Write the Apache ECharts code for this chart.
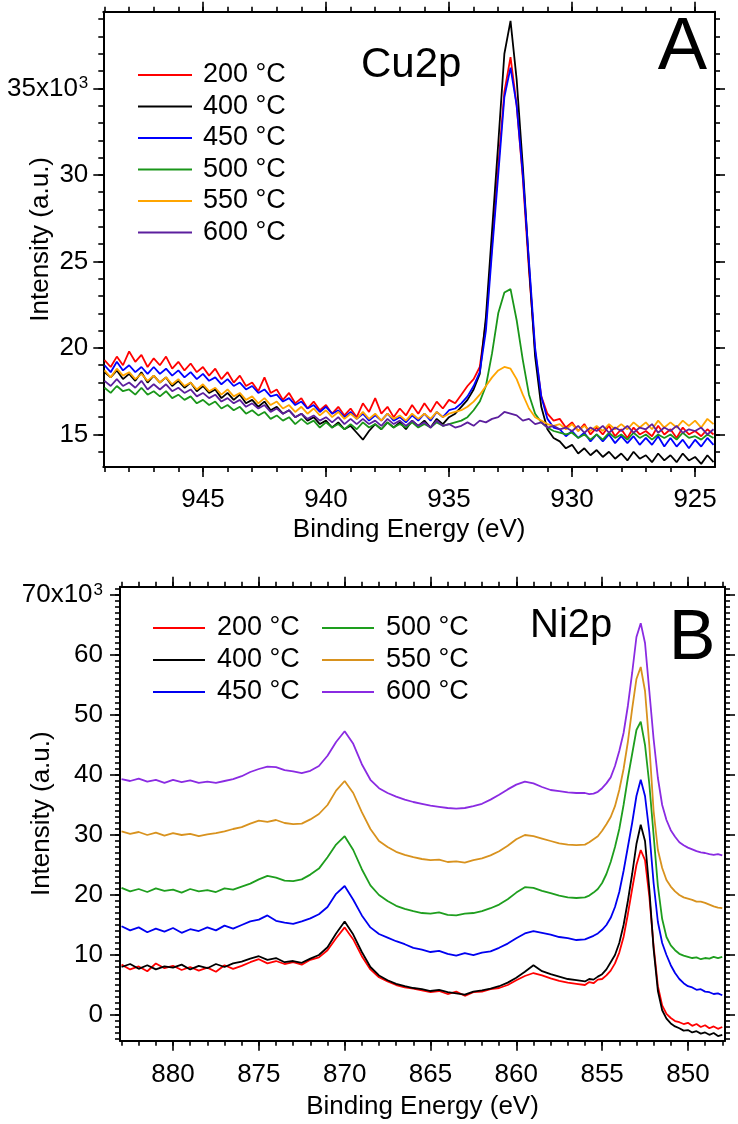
<!DOCTYPE html>
<html><head><meta charset="utf-8">
<script src="https://cdn.jsdelivr.net/npm/echarts@6/dist/echarts.min.js"></script>
<style>html,body{margin:0;padding:0;background:#fff}#c{width:738px;height:1124px}</style>
</head><body><div id="c"></div>
<script>
// ---------------- DATA ----------------
const seriesNames = ['200 °C','400 °C','450 °C','500 °C','550 °C','600 °C'];

// Panel A: Cu2p (intensity in 10^3 a.u.)
const energyA = [949,948.75,948.5,948.25,948,947.75,947.5,947.25,947,946.75,946.5,946.25,946,945.75,945.5,945.25,945,944.75,944.5,944.25,944,943.75,943.5,943.25,943,942.75,942.5,942.25,942,941.75,941.5,941.25,941,940.75,940.5,940.25,940,939.75,939.5,939.25,939,938.75,938.5,938.25,938,937.75,937.5,937.25,937,936.75,936.5,936.25,936,935.75,935.5,935.25,935,934.75,934.5,934.25,934,933.75,933.5,933.25,933,932.75,932.5,932.25,932,931.75,931.5,931.25,931,930.75,930.5,930.25,930,929.75,929.5,929.25,929,928.75,928.5,928.25,928,927.75,927.5,927.25,927,926.75,926.5,926.25,926,925.75,925.5,925.25,925,924.75,924.5,924.25];
const cu200 = [19.3,18.9,19.5,19.0,19.8,19.2,19.6,18.9,19.4,19.0,19.5,18.8,19.2,18.7,19.1,18.6,18.9,18.4,18.8,18.2,18.6,18.0,18.4,17.8,18.0,17.5,18.3,17.4,17.6,17.0,17.4,16.8,17.1,16.5,16.9,16.4,16.7,16.2,16.6,16.1,16.5,16.0,16.8,16.3,17.1,16.2,16.6,16.0,16.5,16.1,16.7,16.2,16.8,16.3,16.9,16.5,17.0,16.8,17.3,17.8,18.2,18.9,21.5,26.0,30.5,34.8,36.8,34.0,29.8,24.5,19.8,17.2,16.2,15.8,15.9,15.4,15.7,15.2,15.6,15.0,15.4,15.0,15.5,14.9,15.3,14.8,15.4,15.0,15.2,14.9,15.5,15.0,15.3,14.8,15.4,15.0,15.2,14.9,15.3,15.0];
const cu400 = [18.6,18.3,18.7,18.2,18.5,18.1,18.6,18.0,18.4,18.0,18.3,17.8,18.1,17.7,18.0,17.5,17.8,17.4,17.6,17.1,17.4,17.0,17.3,16.8,17.0,16.6,16.9,16.4,16.6,16.2,16.4,16.0,16.2,15.8,16.0,15.6,15.8,15.4,15.7,15.3,15.5,15.1,14.7,15.2,15.6,15.3,15.7,15.4,15.7,15.3,15.8,15.5,15.8,15.4,15.9,15.6,16.0,16.2,16.6,17.0,17.6,18.5,21.8,26.8,31.8,37.0,38.9,35.5,30.5,24.8,19.5,16.6,15.3,14.8,14.6,14.2,14.4,13.9,14.2,13.8,14.1,13.7,14.0,13.6,13.9,13.5,14.0,13.6,13.8,13.4,13.9,13.5,13.8,13.4,13.9,13.5,13.7,13.3,13.8,13.4];
const cu450 = [19.0,18.6,19.2,18.7,19.0,18.6,18.9,18.5,18.9,18.5,18.8,18.4,18.7,18.3,18.6,18.2,18.5,18.1,18.3,17.9,18.2,17.8,18.0,17.6,17.8,17.4,17.6,17.2,17.3,16.9,17.1,16.7,16.9,16.5,16.7,16.3,16.6,16.2,16.4,16.0,16.3,15.9,16.2,15.8,16.1,15.8,16.2,15.8,16.0,15.7,16.1,15.8,16.2,15.8,16.3,16.0,16.4,16.5,16.8,17.2,17.8,18.6,21.0,25.6,30.0,34.5,36.2,34.0,30.0,25.0,20.0,17.2,15.9,15.4,15.3,14.9,15.2,14.8,15.1,14.6,15.0,14.6,15.0,14.5,14.9,14.5,14.9,14.4,14.8,14.4,14.9,14.3,14.8,14.3,14.7,14.2,14.7,14.3,14.8,14.4];
const cu500 = [17.7,17.4,17.8,17.5,17.6,17.3,17.7,17.3,17.5,17.2,17.5,17.1,17.3,17.0,17.2,16.8,17.0,16.7,16.9,16.5,16.7,16.4,16.6,16.2,16.4,16.1,16.3,15.9,16.1,15.8,16.0,15.6,15.9,15.6,15.8,15.4,15.7,15.4,15.6,15.3,15.6,15.3,15.7,15.4,15.6,15.3,15.7,15.4,15.6,15.4,15.7,15.4,15.6,15.4,15.7,15.5,15.6,15.7,15.8,16.0,16.4,16.9,17.8,19.7,22.0,23.2,23.4,21.6,19.3,17.3,16.2,15.7,15.4,15.2,15.1,15.0,15.1,14.8,15.0,14.7,15.0,14.7,15.1,14.8,15.0,14.7,15.1,14.8,15.0,14.7,15.0,14.8,15.0,14.7,15.1,14.8,14.9,14.7,15.0,14.8];
const cu550 = [18.7,18.3,18.8,18.4,18.6,18.2,18.5,18.1,18.4,18.0,18.3,17.9,18.2,17.8,18.0,17.6,17.9,17.5,17.7,17.3,17.6,17.2,17.4,17.0,17.2,16.8,17.1,16.7,16.9,16.5,16.7,16.3,16.6,16.2,16.5,16.1,16.4,16.0,16.3,15.9,16.2,15.9,16.3,15.9,16.2,15.8,16.2,15.9,16.1,15.8,16.2,15.9,16.2,15.9,16.3,16.0,16.2,16.3,16.4,16.6,16.9,17.3,17.8,18.3,18.7,18.9,18.8,18.2,17.3,16.5,16.0,15.8,15.6,15.5,15.6,15.3,15.6,15.2,15.5,15.2,15.5,15.2,15.6,15.3,15.6,15.3,15.7,15.4,15.7,15.3,15.8,15.4,15.7,15.4,15.8,15.5,15.8,15.4,15.9,15.6];
const cu600 = [18.1,17.8,18.2,17.8,18.0,17.7,18.1,17.6,17.9,17.6,17.9,17.5,17.7,17.4,17.6,17.2,17.4,17.1,17.3,16.9,17.1,16.8,17.0,16.6,16.8,16.5,16.7,16.3,16.5,16.2,16.4,16.0,16.2,15.9,16.1,15.8,16.0,15.7,16.0,15.6,15.9,15.6,15.9,15.6,15.8,15.5,15.9,15.6,15.8,15.5,15.8,15.5,15.7,15.4,15.8,15.5,15.6,15.4,15.5,15.7,15.5,15.8,15.7,15.9,16.0,16.3,16.2,16.1,15.8,15.9,15.6,15.7,15.4,15.5,15.3,15.4,15.2,15.5,15.1,15.4,15.2,15.5,15.1,15.4,15.2,15.5,15.1,15.4,15.3,15.6,15.1,15.4,15.2,15.5,15.1,15.3,15.2,15.4,15.0,15.3];

// Panel B: Ni2p (intensity in 10^3 a.u.)
const energyB = [883,882.5,882,881.5,881,880.5,880,879.5,879,878.5,878,877.5,877,876.5,876,875.5,875,874.5,874,873.5,873,872.5,872,871.5,871,870.5,870,869.5,869,868.5,868,867.5,867,866.5,866,865.5,865,864.5,864,863.5,863,862.5,862,861.5,861,860.5,860,859.5,859,858.5,858,857.5,857,856.5,856,855.75,855.5,855.25,855,854.75,854.5,854.25,854,853.75,853.5,853.25,853,852.75,852.5,852.25,852,851.75,851.5,851.25,851,850.75,850.5,850.25,850,849.75,849.5,849.25,849,848.75,848.5,848.25,848];
const ni200 = [8.4,7.6,8.1,7.3,8.6,7.8,8.2,7.5,8.0,7.4,7.9,7.2,8.3,7.7,8.2,8.8,9.3,8.6,9.0,8.5,8.8,8.4,9.2,9.6,10.8,12.8,14.6,12.6,9.8,7.6,6.3,5.6,5.0,4.6,4.4,4.1,3.8,4.0,3.5,3.9,3.2,3.8,3.9,4.3,4.5,5.0,5.8,6.5,7.0,6.6,6.1,5.7,5.4,5.2,5.0,5.5,5.3,5.9,6.0,6.6,7.4,8.6,10.4,13.0,16.8,21.0,25.0,27.5,25.8,19.8,11.5,4.8,1.6,0.2,-0.5,-1.0,-1.2,-1.5,-1.3,-1.8,-1.5,-2.0,-1.7,-2.2,-1.9,-2.3,-2.0];
const ni400 = [8.0,8.5,7.7,8.3,7.6,8.1,7.9,8.4,7.6,8.2,7.8,8.5,8.0,8.6,8.9,9.4,9.8,9.2,9.5,8.8,9.0,8.7,9.4,10.0,11.3,13.6,15.6,13.4,10.5,8.0,6.6,5.8,5.2,4.8,4.5,4.3,4.0,4.2,3.8,3.6,3.4,3.9,4.1,4.4,4.8,5.4,6.2,7.2,8.3,7.3,6.8,6.4,6.0,5.8,5.6,6.0,5.9,6.4,6.8,7.6,8.8,10.0,12.0,15.0,19.0,23.5,28.5,31.7,29.0,21.0,11.0,4.0,0.8,-0.6,-1.4,-1.9,-2.2,-2.6,-2.5,-2.9,-2.7,-3.1,-2.9,-3.3,-3.0,-3.5,-3.3];
const ni450 = [14.8,14.1,14.6,13.8,14.4,13.9,14.5,13.7,14.3,14.0,14.6,14.1,14.9,14.4,15.0,15.6,15.9,16.6,15.7,15.4,15.2,15.6,16.1,16.8,18.0,20.2,21.5,19.2,16.6,14.6,13.5,12.9,12.3,11.8,11.2,10.9,10.5,10.7,10.2,9.9,10.3,10.0,10.4,10.6,11.2,11.9,12.8,13.6,14.0,13.7,13.4,13.0,12.8,12.5,12.6,12.9,13.2,13.6,14.2,15.0,16.2,18.0,20.5,24.0,28.0,32.0,36.5,39.2,36.5,30.5,22.0,15.5,12.0,10.0,8.3,7.0,6.0,5.3,4.8,4.6,4.2,4.3,3.9,3.8,3.5,3.6,3.3];
const ni500 = [21.2,20.6,21.0,20.5,21.1,20.7,20.9,20.4,21.0,20.6,20.8,20.5,21.1,20.9,21.4,21.9,22.6,23.2,22.9,22.4,22.3,22.6,23.4,24.4,26.3,28.4,29.8,27.5,24.3,21.6,20.0,19.0,18.2,17.7,17.3,17.0,16.9,17.1,16.7,16.6,16.9,17.0,17.3,17.8,18.4,19.3,20.4,21.3,21.2,20.7,20.3,19.9,19.6,19.5,19.6,19.9,20.4,21.0,22.0,23.5,25.5,28.0,31.0,35.0,39.5,43.5,47.5,48.9,45.0,38.5,30.0,21.5,16.0,13.0,11.6,10.8,10.2,9.9,9.7,9.5,9.6,9.3,9.5,9.4,9.7,9.5,9.7];
const ni550 = [30.6,30.2,30.5,30.0,30.4,29.9,30.3,30.0,30.2,29.8,30.1,30.3,30.6,31.0,31.3,31.9,32.4,32.2,32.5,32.0,31.8,31.9,32.6,33.5,35.0,37.4,39.0,37.0,33.8,31.0,29.0,28.0,27.2,26.7,26.3,26.0,25.8,25.9,25.5,25.6,25.4,25.8,26.1,26.6,27.3,28.2,29.3,30.0,29.8,29.4,29.0,28.6,28.4,28.3,28.4,28.8,29.3,29.8,30.7,31.8,33.0,34.8,37.5,41.0,45.5,51.0,56.0,58.0,54.0,45.0,34.0,27.5,24.5,22.5,21.4,20.6,20.0,19.6,19.4,19.2,18.9,18.9,18.7,18.4,18.1,17.9,17.8];
const ni600 = [39.3,39.0,39.4,38.9,39.2,38.7,39.2,38.8,39.1,38.7,38.9,38.7,39.0,39.3,39.8,40.5,41.0,41.4,41.3,40.8,40.6,40.3,40.7,41.5,43.2,45.5,47.3,45.2,41.8,39.2,37.8,37.0,36.4,35.9,35.5,35.2,34.9,34.7,34.5,34.4,34.5,34.8,35.2,35.9,36.7,37.6,38.4,38.9,38.6,38.0,37.5,37.3,37.1,37.0,37.0,36.8,36.9,37.2,37.8,38.6,39.6,41.5,44.0,47.0,51.5,57.0,63.0,65.3,62.0,54.0,46.0,39.5,35.0,32.5,30.8,29.7,28.8,28.3,27.9,27.6,27.3,27.1,27.0,26.8,26.7,26.8,26.6];

// Tick values
const tickA_xMajor = [945,940,935,930,925];
const tickA_xMinor = [925,926,927,928,929,930,931,932,933,934,935,936,937,938,939,940,941,942,943,944,945,946,947,948,949];
const tickA_yMajor = [15,20,25,30,35];
const tickA_yMinor = [14,15,16,17,18,19,20,21,22,23,24,25,26,27,28,29,30,31,32,33,34,35,36,37,38,39];
const tickB_xMajor = [880,875,870,865,860,855,850];
const tickB_xMinor = [848,849,850,851,852,853,854,855,856,857,858,859,860,861,862,863,864,865,866,867,868,869,870,871,872,873,874,875,876,877,878,879,880,881,882,883];
const tickB_yMajor = [0,10,20,30,40,50,60,70];
const tickB_yMinor = [-4,-3,-2,-1,0,1,2,3,4,5,6,7,8,9,10,11,12,13,14,15,16,17,18,19,20,21,22,23,24,25,26,27,28,29,30,31,32,33,34,35,36,37,38,39,40,41,42,43,44,45,46,47,48,49,50,51,52,53,54,55,56,57,58,59,60,61,62,63,64,65,66,67,68,69,70,71];

// ---------------- STYLE ----------------
const FONT = 'Liberation Sans, Arial, Helvetica, sans-serif';
const colorsA = ['#ff0000','#000000','#0000ff','#1a961a','#ffa500','#5c1f9e'];
const colorsB = ['#ff0000','#000000','#0000f0','#1e9e1e','#d8921e','#8a2be2'];
const dataA = [cu200,cu400,cu450,cu500,cu550,cu600];
const dataB = [ni200,ni400,ni450,ni500,ni550,ni600];

function pairs(xs, ys){ return xs.map((x,i)=>[x, ys[i]]); }

function xAxes(grid, min, max, major, minor, labelMargin, nameGap){
  const base = {type:'value', gridIndex:grid, min:min, max:max, inverse:true, splitLine:{show:false}};
  const line = {show:true, onZero:false, lineStyle:{color:'#000', width:2}};
  const noLine = {show:false, onZero:false};
  return [
    Object.assign({}, base, {position:'bottom', axisLine:line,
      axisTick:{show:true, length:10, customValues:major, lineStyle:{color:'#000', width:1.6}},
      axisLabel:{show:true, customValues:major, margin:labelMargin, fontSize:26, color:'#000', fontFamily:FONT},
      name:'Binding Energy (eV)', nameLocation:'middle', nameGap:nameGap, nameMoveOverlap:false,
      nameTextStyle:{fontSize:26, color:'#000', fontFamily:FONT}}),
    Object.assign({}, base, {position:'bottom', axisLine:noLine,
      axisTick:{show:true, length:5, customValues:minor, lineStyle:{color:'#000', width:1.6}},
      axisLabel:{show:false}}),
    Object.assign({}, base, {position:'top', axisLine:line,
      axisTick:{show:true, length:10, customValues:major, lineStyle:{color:'#000', width:1.6}},
      axisLabel:{show:false}}),
    Object.assign({}, base, {position:'top', axisLine:noLine,
      axisTick:{show:true, length:5, customValues:minor, lineStyle:{color:'#000', width:1.6}},
      axisLabel:{show:false}})
  ];
}
function yAxes(grid, min, max, major, minor, topVal, labelMargin, nameGap){
  const base = {type:'value', gridIndex:grid, min:min, max:max, splitLine:{show:false}};
  const line = {show:true, onZero:false, lineStyle:{color:'#000', width:2}};
  const noLine = {show:false, onZero:false};
  return [
    Object.assign({}, base, {position:'left', axisLine:line,
      axisTick:{show:true, length:10, customValues:major, lineStyle:{color:'#000', width:1.6}},
      axisLabel:{show:true, customValues:major, margin:labelMargin, fontSize:26, color:'#000', fontFamily:FONT,
        formatter: v => v === topVal ? (v + 'x10{sup|3}') : String(v),
        rich:{sup:{fontSize:17, fontFamily:FONT, color:'#000', verticalAlign:'top', padding:[0,0,10,1]}}},
      name:'Intensity (a.u.)', nameLocation:'middle', nameGap:nameGap, nameRotate:90, nameMoveOverlap:false,
      nameTextStyle:{fontSize:26, color:'#000', fontFamily:FONT}}),
    Object.assign({}, base, {position:'left', axisLine:noLine,
      axisTick:{show:true, length:5, customValues:minor, lineStyle:{color:'#000', width:1.6}},
      axisLabel:{show:false}}),
    Object.assign({}, base, {position:'right', axisLine:line,
      axisTick:{show:true, length:10, customValues:major, lineStyle:{color:'#000', width:1.6}},
      axisLabel:{show:false}}),
    Object.assign({}, base, {position:'right', axisLine:noLine,
      axisTick:{show:true, length:5, customValues:minor, lineStyle:{color:'#000', width:1.6}},
      axisLabel:{show:false}})
  ];
}

const series = [];
seriesNames.forEach((n,i)=>{
  series.push({name:n, type:'line', xAxisIndex:0, yAxisIndex:0, data:pairs(energyA, dataA[i]),
    showSymbol:false, symbol:'none', lineStyle:{color:colorsA[i], width:1.8}, itemStyle:{color:colorsA[i]}, z:2+i});
});
seriesNames.forEach((n,i)=>{
  series.push({name:n, type:'line', xAxisIndex:4, yAxisIndex:4, data:pairs(energyB, dataB[i]),
    showSymbol:false, symbol:'none', lineStyle:{color:colorsB[i], width:1.8}, itemStyle:{color:colorsB[i]}, z:2+i});
});

function legendData(idx, colors){ return idx.map(i => ({name:seriesNames[i], itemStyle:{color:colors[i]}})); }
const legendCommon = {orient:'vertical', padding:0, itemGap:0, icon:'rect', itemHeight:2, selectedMode:false};

const chart = echarts.init(document.getElementById('c'), null, {renderer:'canvas'});
chart.setOption({
  animation:false,
  backgroundColor:'#fff',
  textStyle:{fontFamily:FONT},
  grid:[
    {left:103.3, top:11.7, width:611.7, height:455.3, containLabel:false, outerBoundsMode:'none'},
    {left:120, top:586.7, width:605, height:454, containLabel:false, outerBoundsMode:'none'}
  ],
  xAxis: xAxes(0, 924.19, 949.05, tickA_xMajor, tickA_xMinor, 20, 50)
    .concat(xAxes(1, 847.84, 883.09, tickB_xMajor, tickB_xMinor, 21, 53)),
  yAxis: yAxes(0, 13.12, 39.43, tickA_yMajor, tickA_yMinor, 35, 15, 49)
    .concat(yAxes(1, -4.28, 71.38, tickB_yMajor, tickB_yMinor, 70, 17, 65)),
  legend:[
    Object.assign({}, legendCommon, {left:138, top:59.25, itemWidth:54,
      textStyle:{fontSize:27, color:'#000', fontFamily:FONT, lineHeight:31.5, padding:[0,0,0,6]},
      data:legendData([0,1,2,3,4,5], colorsA)}),
    Object.assign({}, legendCommon, {left:153, top:612, itemWidth:52,
      textStyle:{fontSize:27, color:'#000', fontFamily:FONT, lineHeight:32, padding:[0,0,0,7]},
      data:legendData([0,1,2], colorsB)}),
    Object.assign({}, legendCommon, {left:322, top:612, itemWidth:52,
      textStyle:{fontSize:27, color:'#000', fontFamily:FONT, lineHeight:32, padding:[0,0,0,7]},
      data:legendData([3,4,5], colorsB)})
  ],
  graphic:[
    {type:'text', x:361, y:65, style:{text:'Cu2p', font:'42px '+FONT, fill:'#000', textAlign:'left', textVerticalAlign:'middle'}},
    {type:'text', x:682.5, y:48.5, style:{text:'A', font:'74px '+FONT, fill:'#000', textAlign:'center', textVerticalAlign:'middle'}},
    {type:'text', x:530, y:626, style:{text:'Ni2p', font:'40px '+FONT, fill:'#000', textAlign:'left', textVerticalAlign:'middle'}},
    {type:'text', x:692, y:640, style:{text:'B', font:'70px '+FONT, fill:'#000', textAlign:'center', textVerticalAlign:'middle'}}
  ],
  series: series
});
</script>
</body></html>
